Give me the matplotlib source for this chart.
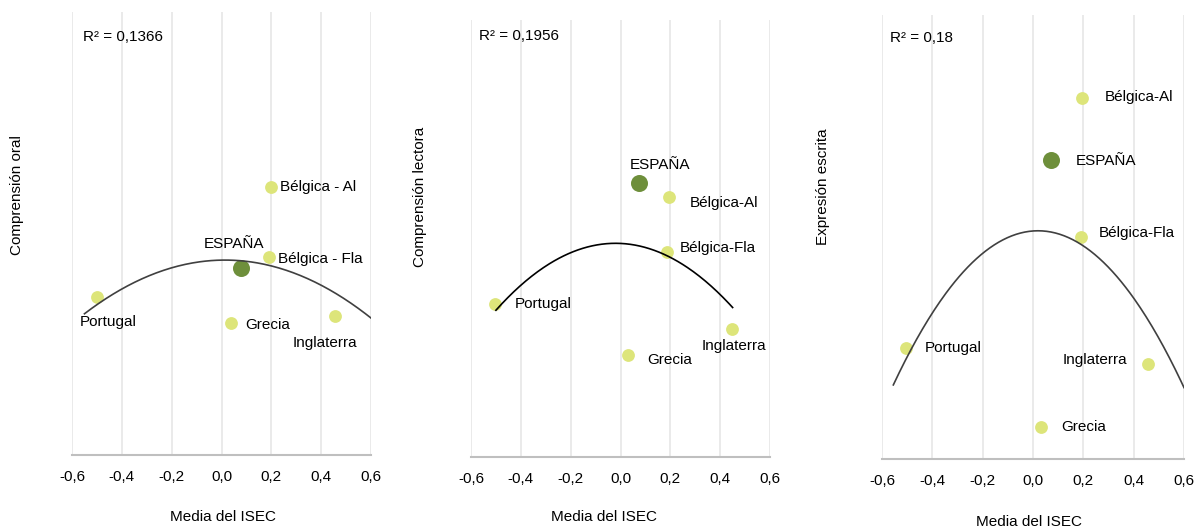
import matplotlib
matplotlib.use("Agg")
import matplotlib.pyplot as plt
import numpy as np

plt.rcParams['font.family'] = ['Liberation Sans', 'DejaVu Sans']

# ---------------- data ----------------
countries = ["Bélgica-Al", "ESPAÑA", "Bélgica-Fla", "Portugal", "Grecia", "Inglaterra"]
isec = {
    "oral":    [0.198, 0.077, 0.190, -0.498, 0.038, 0.455],
    "lectora": [0.196, 0.073, 0.188, -0.504, 0.031, 0.447],
    "escrita": [0.193, 0.070, 0.190, -0.506, 0.033, 0.456],
}
# relative score (0 = axis floor, 1 = top of plot area)
score_oral = [0.605, 0.421, 0.448, 0.357, 0.297, 0.314]
score_lectora = [0.595, 0.628, 0.470, 0.349, 0.234, 0.293]
score_escrita = [0.814, 0.673, 0.501, 0.249, 0.071, 0.215]

labels_oral = ["Bélgica - Al", "ESPAÑA", "Bélgica - Fla", "Portugal", "Grecia", "Inglaterra"]
labels_lectora = ["Bélgica-Al", "ESPAÑA", "Bélgica-Fla", "Portugal", "Grecia", "Inglaterra"]
labels_escrita = ["Bélgica-Al", "ESPAÑA", "Bélgica-Fla", "Portugal", "Grecia", "Inglaterra"]

ylabels = ["Comprensión oral", "Comprensión lectora", "Expresión escrita"]
r2_texts = ["R² = 0,1366", "R² = 0,1956", "R² = 0,18"]

# polynomial (order 2) trendlines: vertex x, vertex y, curvature, x range
trend_vertex_x = [0.014, -0.02, 0.02]
trend_vertex_y = [0.440, 0.489, 0.514]
trend_curv = [0.381, 0.665, 1.05]
trend_xrange = [(-0.55, 0.6), (-0.50, 0.45), (-0.555, 0.6)]

xticks = [-0.6, -0.4, -0.2, 0.0, 0.2, 0.4, 0.6]
xticklabels = ["-0,6", "-0,4", "-0,2", "0,0", "0,2", "0,4", "0,6"]

# ---------------- layout / style ----------------
LIGHT = "#dde57a"
DARK = "#6e8f3b"
GRID = "#e6e6e6"
AXIS = "#bfbfbf"
FS = 11

axes_rect = [
    [72 / 1198, 75 / 530, 299 / 1198, 443 / 530],
    [471 / 1198, 73 / 530, 299 / 1198, 437 / 530],
    [882 / 1198, 71 / 530, 302 / 1198, 444 / 530],
]
# label offsets in pixels (dx to left edge, dy up to centre) relative to point
offs = [
    [(9, 0), (-37, 24), (9, -2), (-18, -25), (14, -2), (-42, -27)],
    [(20, -6), (-9, 18), (12, 4), (20, 0), (19, -5), (-30, -17)],
    [(23, 1), (25, -1), (18, 4), (19, 0), (20, 0), (-85, 4)],
]
trend_colors = ["#404040", "#000000", "#404040"]
trend_lw = [1.2, 1.2, 1.2]
r2_pos = [(83, 37), (479, 36), (890, 38)]
ylabel_x = [17, 420, 823]
ylabel_y = [195, 197, 187]
xlabel_pos = [(223, 517), (604, 517), (1029, 522)]

fig = plt.figure(figsize=(11.98, 5.30), dpi=100)

all_scores = [score_oral, score_lectora, score_escrita]
all_labels = [labels_oral, labels_lectora, labels_escrita]
keys = ["oral", "lectora", "escrita"]

for i in range(3):
    ax = fig.add_axes(axes_rect[i])
    xs = np.array(isec[keys[i]])
    ys = np.array(all_scores[i])
    ax.set_xlim(-0.6, 0.6)
    ax.set_ylim(0, 1)
    ax.set_xticks(xticks)
    ax.set_xticklabels(xticklabels, fontsize=FS, color="#000000")
    ax.set_yticks([])
    ax.tick_params(axis="x", length=0, pad=11)
    for s in ["top", "right", "left"]:
        ax.spines[s].set_visible(False)
    ax.spines["bottom"].set_color(AXIS)
    ax.spines["bottom"].set_linewidth(1.5)
    for xt in xticks:
        ax.axvline(xt, color=GRID, lw=1.2, zorder=0)

    # trendline
    xx = np.linspace(trend_xrange[i][0], trend_xrange[i][1], 200)
    yy = trend_vertex_y[i] - trend_curv[i] * (xx - trend_vertex_x[i]) ** 2
    ax.plot(xx, yy, color=trend_colors[i], lw=trend_lw[i], zorder=3, clip_on=True)

    for j, name in enumerate(countries):
        if name == "ESPAÑA":
            ax.scatter(xs[j], ys[j], s=150, color=DARK, zorder=2, linewidths=0)
        else:
            ax.scatter(xs[j], ys[j], s=85, color=LIGHT, zorder=2, linewidths=0)
        dx, dy = offs[i][j]
        ax.annotate(all_labels[i][j], (xs[j], ys[j]), xytext=(dx, dy),
                    textcoords="offset pixels", ha="left", va="center",
                    fontsize=FS, color="#000000")

    fig.text(r2_pos[i][0] / 1198, 1 - r2_pos[i][1] / 530, r2_texts[i],
             ha="left", va="center", fontsize=FS, color="#000000")
    fig.text(ylabel_x[i] / 1198, 1 - ylabel_y[i] / 530, ylabels[i], rotation=90,
             ha="center", va="center", fontsize=FS, color="#000000")
    fig.text(xlabel_pos[i][0] / 1198, 1 - xlabel_pos[i][1] / 530, "Media del ISEC",
             ha="center", va="center", fontsize=FS, color="#000000")

fig.savefig("out.png", dpi=100, facecolor="white")
